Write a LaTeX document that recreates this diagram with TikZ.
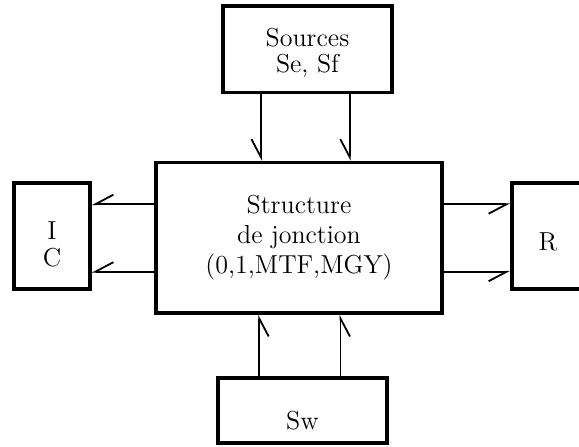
\documentclass[tikz,border=0pt]{standalone}
\usetikzlibrary{arrows.meta,calc}
\begin{document}
\begin{tikzpicture}[x=0.5pt,y=-0.5pt,
  block/.style={draw,line width=1.75pt,inner sep=0pt,align=center,
    font=\fontsize{13}{15}\selectfont},
  txt/.style={inner sep=0pt,align=center,font=\fontsize{13}{13.5}\selectfont},
  bond/.style={line width=0.9pt,-{Straight Barb[right,length=9pt,width=9.5pt,line width=0.9pt]}}]
\useasboundingbox (0,0) rectangle (579,446);
\clip (0,0) rectangle (579,446);

% bond graph blocks
\node[block,minimum width=84.5pt,minimum height=43.3pt] (src) at (307.5,49.3) {};
\node[txt,font=\fontsize{13}{13}\selectfont] at ([yshift=-2pt]src.center) {Sources\\Se, Sf};
\node[block,minimum width=143pt,minimum height=75.3pt] (st) at (299,237.8)
  {Structure\\de jonction\\(0,1,MTF,MGY)};
\node[block,minimum width=38pt,minimum height=53pt] (ic) at (52,236) {};
\node[txt] at ([yshift=-4pt]ic.center) {I\\C};
\node[block,minimum width=36pt,minimum height=53pt] (r) at (548,236) {};
\node[txt] at ([yshift=-3pt]r.center) {R};
\node[block,minimum width=84.5pt,minimum height=32.5pt] (sw) at (302.5,410.5) {};
\node[txt] at ([yshift=-5pt]sw.center) {Sw};

% sources -> junction structure
\coordinate (s1) at ($(src.south west)!0.23!(src.south east)$);
\coordinate (s2) at ($(src.south west)!0.745!(src.south east)$);
\draw[bond] (s1) -- (s1 |- st.north);
\draw[bond] (s2) -- (s2 |- st.north);

% switches -> junction structure
\coordinate (w1) at ($(sw.north west)!0.249!(sw.north east)$);
\coordinate (w2) at ($(sw.north west)!0.72!(sw.north east)$);
\draw[bond] (w1) -- (w1 |- st.south);
\draw[bond] (w2) -- (w2 |- st.south);

% junction structure -> storage elements
\coordinate (l1) at ($(st.north west)!0.282!(st.south west)$);
\coordinate (l2) at ($(st.north west)!0.72!(st.south west)$);
\draw[bond] (l1) -- (l1 -| ic.east);
\draw[bond] (l2) -- (l2 -| ic.east);

% junction structure -> dissipative elements
\coordinate (r1) at ($(st.north east)!0.282!(st.south east)$);
\coordinate (r2) at ($(st.north east)!0.72!(st.south east)$);
\draw[bond] (r1) -- (r1 -| r.west);
\draw[bond] (r2) -- (r2 -| r.west);
\end{tikzpicture}
\end{document}
